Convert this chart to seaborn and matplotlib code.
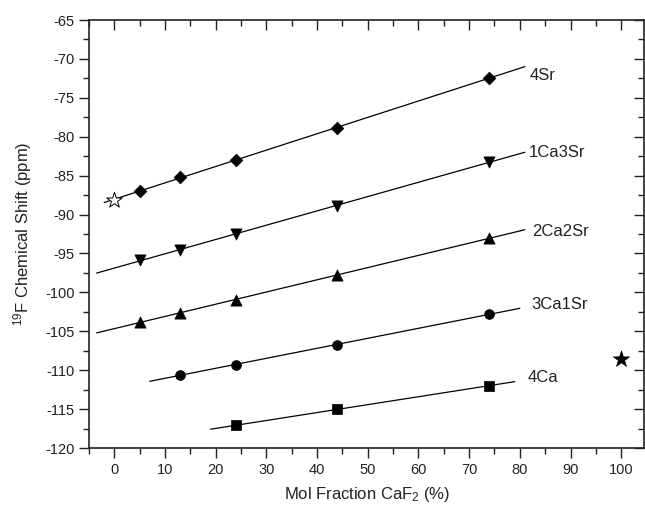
import numpy as np
import pandas as pd
import matplotlib
matplotlib.use("Agg")
import matplotlib.pyplot as plt
import seaborn as sns
from matplotlib.ticker import MultipleLocator

# ---- data ----
series_names = ["4Sr", "1Ca3Sr", "2Ca2Sr", "3Ca1Sr", "4Ca"]
x_4Sr = [5, 13, 24, 44, 74]
y_4Sr = [-87.0, -85.2, -83.0, -78.9, -72.4]
x_1Ca3Sr = [5, 13, 24, 44, 74]
y_1Ca3Sr = [-95.8, -94.6, -92.5, -88.9, -83.2]
x_2Ca2Sr = [5, 13, 24, 44, 74]
y_2Ca2Sr = [-103.8, -102.6, -101.0, -97.8, -93.0]
x_3Ca1Sr = [13, 24, 44, 74]
y_3Ca1Sr = [-110.6, -109.3, -106.7, -102.8]
x_4Ca = [24, 44, 74]
y_4Ca = [-117.1, -115.0, -112.0]
# fit line x extents
fit_start = [-2, -3.5, -3.5, 7, 19]
fit_end = [81, 81, 81, 80, 79]
# label anchor positions (data coords)
label_x = [82.0, 81.7, 82.4, 82.2, 81.5]
label_y = [-72.1, -82.0, -92.2, -101.5, -110.9]
# reference points (SrF2 open star, CaF2 filled star)
srf2_x, srf2_y = [0], [-88.1]
caf2_x, caf2_y = [100], [-108.6]

xs = [x_4Sr, x_1Ca3Sr, x_2Ca2Sr, x_3Ca1Sr, x_4Ca]
ys = [y_4Sr, y_1Ca3Sr, y_2Ca2Sr, y_3Ca1Sr, y_4Ca]

rows = []
for n, xx, yy in zip(series_names, xs, ys):
    for a, b in zip(xx, yy):
        rows.append({"series": n, "x": a, "y": b})
df = pd.DataFrame(rows)

sns.set_theme(style="ticks")
plt.rcParams["font.family"] = ["Liberation Sans", "DejaVu Sans"]
plt.rcParams["mathtext.fontset"] = "custom"
plt.rcParams["mathtext.rm"] = "Liberation Sans"
plt.rcParams["mathtext.it"] = "Liberation Sans"
plt.rcParams["axes.unicode_minus"] = False

fig = plt.figure(figsize=(6.45, 5.08), dpi=100)
ax = fig.add_axes([89/645, 60/508, (644.5-89)/645, (448-20)/508])

# fit lines
for n, xx, yy, s, e in zip(series_names, xs, ys, fit_start, fit_end):
    p = np.polyfit(xx, yy, 1)
    lx = np.array([s, e])
    ly = np.polyval(p, lx)
    sns.lineplot(x=lx, y=ly, ax=ax, color="black", lw=0.9, legend=False)

markers = {"4Sr": "D", "1Ca3Sr": "v", "2Ca2Sr": "^", "3Ca1Sr": "o", "4Ca": "s"}
sizes_map = {"4Sr": 42, "1Ca3Sr": 65, "2Ca2Sr": 65, "3Ca1Sr": 50, "4Ca": 60}
for n in series_names:
    sub = df[df.series == n]
    sns.scatterplot(data=sub, x="x", y="y", marker=markers[n], s=sizes_map[n],
                    color="black", edgecolor="black", linewidth=0.5, ax=ax,
                    legend=False, zorder=3)

sns.scatterplot(x=srf2_x, y=srf2_y, marker="*", s=140, facecolor="white",
                edgecolor="black", linewidth=0.7, ax=ax, zorder=4)
sns.scatterplot(x=caf2_x, y=caf2_y, marker="*", s=150, color="black",
                edgecolor="black", linewidth=0.5, ax=ax, zorder=4)

for n, lx, ly in zip(series_names, label_x, label_y):
    ax.text(lx, ly, n, fontsize=12, ha="left", va="center", color="#222222")

ax.set_xlim(-5, 104.6)
ax.set_ylim(-120, -65)
ax.xaxis.set_major_locator(MultipleLocator(10))
ax.xaxis.set_minor_locator(MultipleLocator(5))
ax.yaxis.set_major_locator(MultipleLocator(5))
ax.yaxis.set_minor_locator(MultipleLocator(2.5))
ax.set_xticks(np.arange(0, 101, 10))

ax.tick_params(axis="both", which="both", direction="out",
               labelsize=10.5, colors="#222222")
ax.tick_params(which="major", length=7, width=1.0)
ax.tick_params(which="minor", length=4, width=1.0)
ax.tick_params(axis="x", which="both", top=True, labeltop=False)
ax.tick_params(axis="y", which="both", right=True, labelright=False)
# top/right ticks inward
for t in ax.xaxis.get_major_ticks() + ax.xaxis.get_minor_ticks():
    t.tick2line.set_marker(3)  # TICKDOWN
for t in ax.yaxis.get_major_ticks() + ax.yaxis.get_minor_ticks():
    t.tick2line.set_marker(0)  # TICKLEFT

for sp in ax.spines.values():
    sp.set_visible(True)
    sp.set_linewidth(1.2)
    sp.set_color("#222222")

ax.set_xlabel("Mol Fraction CaF$_2$ (%)", fontsize=12, color="#222222", labelpad=6)
ax.set_ylabel("$^{19}$F Chemical Shift (ppm)", fontsize=12, color="#222222", labelpad=8)

fig.savefig("out.png", dpi=100)
